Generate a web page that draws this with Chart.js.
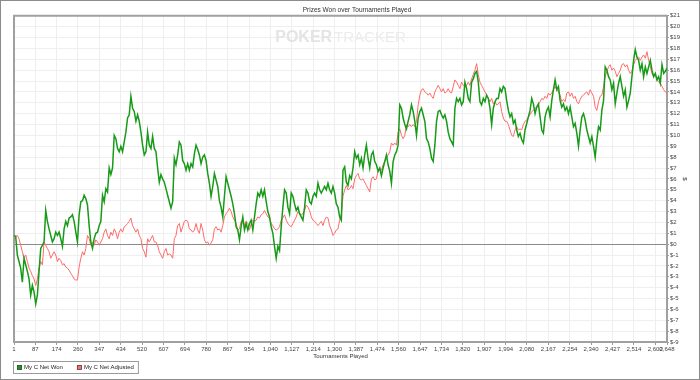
<!DOCTYPE html>
<html>
<head>
<meta charset="utf-8">
<script src="https://cdn.jsdelivr.net/npm/chart.js@4.4.1/dist/chart.umd.min.js"></script>
<style>
html,body{margin:0;padding:0;background:#fff;}
#wrap{width:700px;height:380px;position:relative;}
canvas{display:block;}
</style>
</head>
<body>
<div id="wrap"><canvas id="c" width="700" height="380"></canvas></div>
<script>
const chartTitle = 'Prizes Won over Tournaments Played';
const xAxisTitle = 'Tournaments Played';
const yAxisTitle = '$';
const seriesNames = ['My C Net Won', 'My C Net Adjusted'];
const seriesColors = ['#179a17', '#ff6b6b'];
const firstTournament = 1;
const lastTournament = 2648;
const yMin = -9;
const yMax = 21;
const xTickValues = [1, 87, 174, 260, 347, 434, 520, 607, 694, 780, 867, 954, 1040, 1127, 1214, 1300,
  1387, 1474, 1560, 1647, 1734, 1820, 1907, 1994, 2080, 2167, 2254, 2340, 2427, 2514, 2600, 2648];

// Net won ($), sampled evenly from tournament 1 to 2648
const netWon = [
  0.8, 0.7, -1.0, -1.6, -2.2, -3.5, -1.3, -1.9, -2.5, -3.2, -4.7, -3.8, -4.4, -5.5, -4.7, -2.5, -0.4, -0.1, 0.2, 3.1,
  2.1, 1.4, 0.8, 0.2, 0.5, 1.1, 0.8, 1.1, 0.5, -0.2, 1.4, 2.1, 1.7, 2.4, 2.5, 2.7, 2.1, 1.1, 0.2, 2.7,
  3.9, 4.0, 4.5, 4.2, 3.6, 1.7, 0.2, -0.4, 0.5, 1.0, 1.1, 1.7, 2.1, 4.5, 3.9, 5.1, 4.8, 7.0, 6.4, 7.0,
  10.0, 9.7, 8.8, 8.5, 9.0, 8.5, 9.4, 10.3, 11.6, 11.9, 13.6, 12.5, 12.2, 11.3, 11.9, 11.3, 10.3, 9.1, 8.2, 8.5,
  10.3, 9.1, 8.8, 9.9, 8.8, 8.5, 7.0, 5.7, 6.4, 6.0, 5.7, 5.1, 4.5, 3.9, 3.3, 3.9, 7.9, 7.3, 8.2, 9.4, 9.1,
  7.7, 7.4, 6.8, 7.4, 6.8, 7.4, 7.1, 8.3, 9.1, 8.7, 8.2, 7.4, 8.0, 8.2, 7.7, 6.5, 5.6, 4.4, 5.3, 6.5,
  5.9, 5.3, 4.0, 3.4, 2.5, 4.4, 6.2, 5.6, 5.0, 4.4, 3.7, 2.8, 1.6, 1.3, 0.4, 1.6, 2.5, 1.3, 1.9, 1.3,
  1.9, 2.2, 1.3, 2.5, 3.7, 4.7, 4.4, 5.0, 4.4, 5.0, 3.9, 3.0, 2.5, 1.6, 1.0, -0.2, -1.3, -0.2, -0.6, 1.6,
  3.4, 5.0, 4.7, 3.4, 2.8, 4.7, 4.4, 3.7, 3.1, 3.4, 2.8, 2.5, 2.2, 3.4, 5.0, 4.7, 3.9, 3.7, 4.4, 4.7,
  4.4, 5.6, 5.0, 4.7, 5.0, 5.3, 5.0, 5.6, 5.0, 4.7, 5.3, 4.7, 3.7, 3.4, 2.5, 2.2, 6.8, 7.1,
  5.7, 5.4, 6.3, 6.0, 7.0, 8.5, 7.9, 8.2, 7.3, 7.9, 7.0, 8.2, 9.1, 7.9, 7.0, 8.2, 8.5, 7.6, 7.3, 6.7,
  7.0, 6.3, 7.0, 7.6, 8.2, 7.3, 6.7, 5.6, 7.6, 8.2, 8.5, 9.1, 12.8, 12.5, 11.6, 11.0, 10.6, 11.3, 11.9, 12.8,
  12.2, 11.3, 10.0, 11.6, 12.2, 12.5, 11.9, 11.3, 9.7, 9.4, 8.8, 7.9, 7.6, 9.1, 11.3, 12.2, 12.3, 11.9, 11.6, 11.9,
  11.3, 10.3, 9.7, 9.4, 9.1, 12.5, 13.4, 13.1, 13.4, 12.8, 13.1, 14.9, 14.3, 13.4, 13.1, 14.9, 15.2, 15.7, 15.9, 14.9,
  13.1, 12.8, 13.4, 13.1, 13.7, 13.4, 12.5, 11.0, 12.5, 13.1, 13.4, 13.4, 14.3, 14.0, 14.5, 14.3,
  13.2, 12.3, 11.7, 12.0, 11.1, 11.4, 10.5, 9.9, 10.2, 9.6, 9.3, 10.5, 11.1, 11.7, 12.3, 13.4, 12.9, 12.0, 12.6, 12.9,
  11.7, 10.5, 10.2, 11.7, 12.3, 12.6, 11.7, 13.2, 14.2, 15.1, 14.2, 14.5, 13.2, 12.6, 12.9, 12.3, 12.6, 12.0, 12.6, 11.7,
  10.8, 11.1, 10.2, 9.0, 10.5, 11.7, 12.0, 11.4, 10.5, 9.9, 9.3, 9.9, 9.0, 8.0, 9.6, 10.8, 10.5, 12.3, 13.2, 16.3,
  16.0, 15.4, 15.1, 14.2, 14.8, 12.9, 13.9, 14.8, 15.4, 14.5, 13.6, 14.2, 12.6, 13.2, 13.9, 15.4, 16.9, 17.9, 17.2, 16.9,
  16.0, 16.6, 15.4, 16.3, 15.7, 16.3, 16.9, 16.0, 15.4, 15.7, 15.1, 15.4, 14.8, 16.5, 15.7, 15.9, 16.2
];

// Net adjusted ($), same sampling
const netAdjusted = [
  0.5, 0.7, 0.8, 0.5, -0.1, -0.7, -1.3, -1.0, -1.6, -2.2, -2.5, -2.9, -3.2, -3.8, -3.2, -2.2, -1.6, -1.9, 0.2, -0.1,
  -0.4, -0.7, -1.3, -1.0, -0.7, -1.0, -1.6, -1.3, -1.5, -1.9, -1.8, -2.1, -2.2, -2.4, -2.7, -2.9, -3.2, -3.3, -3.3, -2.1,
  -1.3, -0.7, -1.0, -0.4, 0.8, 0.5, -0.1, 0.2, -0.1, 0.4, 0.2, -0.1, 0.2, 0.5, 1.1, 1.4, 0.8, 0.5, 1.1, 0.8,
  1.4, 1.1, 0.5, 1.1, 1.4, 1.1, 1.6, 1.7, 1.9, 2.1, 2.4, 1.7, 1.4, 1.1, 1.4, 0.8, 0.5, -0.4, -0.7, -1.2,
  0.5, 0.2, 0.5, 0.8, 0.2, 0.2, -0.1, -0.7, -1.0, -1.3, -0.7, -0.4, -1.0, -0.9, -1.0, -1.3, 0.5, 0.8, 1.7, 1.9, 1.1,
  1.6, 2.1, 2.2, 2.1, 1.4, 1.3, 1.1, 1.3, 1.9, 1.3, 1.0, 1.9, 1.3, 0.4, 0.1, 0.2, -0.1, 0.1, 0.4, 1.4,
  1.6, 1.3, 1.4, 1.1, 1.7, 2.5, 2.8, 3.0, 3.3, 3.0, 2.5, 2.2, 1.9, 1.3, 1.4, 2.1, 2.2, 1.7, 2.1, 1.9,
  1.3, 1.9, 2.2, 2.1, 2.2, 2.5, 2.4, 2.7, 2.8, 3.1, 2.8, 2.5, 2.4, 1.9, 1.7, 1.4, 1.3, 1.4, 1.6, 2.2,
  2.4, 2.7, 2.2, 1.9, 1.7, 1.6, 1.9, 2.2, 2.5, 3.0, 2.8, 2.7, 2.8, 3.1, 3.6, 3.4, 3.1, 2.5, 2.2, 2.1,
  1.9, 1.7, 1.9, 2.1, 1.7, 2.2, 2.5, 2.4, 1.7, 1.3, 0.8, 1.0, 1.3, 1.4, 2.2, 2.8, 4.4, 5.0,
  5.4, 5.0, 5.1, 5.4, 5.1, 6.0, 6.3, 6.5, 6.0, 5.9, 6.0, 5.7, 5.4, 5.1, 4.8, 6.0, 6.2, 5.9, 6.0, 6.7,
  7.0, 6.8, 7.3, 7.6, 7.9, 8.2, 8.5, 9.3, 9.1, 9.3, 9.1, 10.3, 10.6, 10.0, 9.7, 10.0, 11.0, 10.8, 11.0, 10.8,
  11.0, 10.8, 11.3, 12.8, 13.7, 14.2, 14.3, 14.0, 13.9, 13.7, 13.9, 13.6, 13.4, 14.0, 14.3, 14.6, 14.3, 14.0, 14.3, 13.9,
  14.0, 14.3, 14.0, 13.9, 14.5, 15.1, 14.9, 14.6, 14.3, 14.9, 14.6, 14.5, 14.6, 14.9, 14.6, 15.2, 15.6, 16.0, 16.6, 15.6,
  14.9, 14.6, 14.3, 14.0, 13.7, 13.4, 13.1, 13.4, 12.9, 13.1, 12.8, 12.9, 13.1, 12.2, 11.6, 11.3,
  11.3, 11.0, 10.5, 10.0, 9.9, 10.5, 10.8, 10.5, 10.6, 10.5, 11.0, 11.3, 11.4, 11.7, 11.9, 12.2, 12.3, 12.5, 12.6, 12.8,
  13.1, 13.4, 13.3, 13.6, 13.4, 13.9, 13.7, 13.9, 14.2, 14.5, 14.2, 14.0, 13.7, 13.1, 13.3, 13.1, 13.9, 14.0, 13.6, 13.9,
  13.4, 13.6, 13.1, 12.9, 13.3, 13.6, 13.7, 13.9, 14.0, 13.7, 14.2, 13.9, 13.6, 12.6, 12.3, 13.1, 13.6, 13.7, 14.5, 15.4,
  15.9, 16.3, 16.5, 16.0, 16.2, 15.9, 15.4, 15.7, 16.0, 16.5, 16.6, 16.3, 16.5, 16.0, 15.7, 15.9, 16.5, 16.9, 17.1, 17.2,
  16.9, 17.2, 17.4, 17.1, 17.7, 16.9, 16.3, 15.7, 15.4, 15.6, 15.1, 14.9, 14.8, 14.5, 14.2, 14.0, 13.9
];

const FONT = "'Liberation Sans', Arial, sans-serif";

function toPoints(vals) {
  const step = (lastTournament - firstTournament) / (vals.length - 1);
  return vals.map((v, i) => ({ x: firstTournament + i * step, y: v }));
}

const decorPlugin = {
  id: 'decor',
  beforeDraw(chart) {
    const ctx = chart.ctx;
    ctx.save();
    ctx.fillStyle = '#ffffff';
    ctx.fillRect(0, 0, chart.width, chart.height);
    ctx.restore();
  },
  beforeDatasetsDraw(chart) {
    const ctx = chart.ctx;
    const a = chart.chartArea;
    ctx.save();
    // watermark
    ctx.textBaseline = 'middle';
    ctx.textAlign = 'left';
    ctx.font = "bold 16px " + FONT;
    const w1 = ctx.measureText('POKER').width;
    ctx.font = "15px " + FONT;
    const w2 = ctx.measureText('TRACKER').width;
    const cx = (a.left + a.right) / 2;
    let sx = cx - (w1 + w2 + 2) / 2;
    ctx.fillStyle = '#e4e4e4';
    ctx.font = "bold 16px " + FONT;
    ctx.fillText('POKER', sx, 38);
    ctx.fillStyle = '#ececec';
    ctx.font = "15px " + FONT;
    ctx.fillText('TRACKER', sx + w1 + 2, 38);
    // left and top frame of plot
    ctx.strokeStyle = '#a0a0a0';
    ctx.lineWidth = 2;
    ctx.beginPath();
    ctx.moveTo(a.left, a.bottom);
    ctx.lineTo(a.left, a.top);
    ctx.lineTo(a.right, a.top);
    ctx.stroke();
    ctx.restore();
  },
  afterDraw(chart) {
    const ctx = chart.ctx;
    ctx.save();
    // legend
    ctx.font = "6px " + FONT;
    ctx.textBaseline = 'middle';
    ctx.textAlign = 'left';
    let x = 17;
    const y = 367.5;
    const items = chart.data.datasets.map(d => ({ label: d.label, color: d.borderColor }));
    const startX = 13;
    items.forEach((it, i) => {
      ctx.fillStyle = it.color;
      ctx.fillRect(x, y - 2.5, 5, 5);
      ctx.strokeStyle = '#444';
      ctx.lineWidth = 0.7;
      ctx.strokeRect(x + 0.5, y - 2.5 + 0.5, 4, 4);
      ctx.fillStyle = '#222';
      ctx.fillText(it.label, x + 7, y);
      x += 7 + ctx.measureText(it.label).width + (i === items.length - 1 ? 4 : 14);
    });
    ctx.strokeStyle = '#9a9a9a';
    ctx.lineWidth = 1;
    ctx.strokeRect(startX + 0.5, 361.5, x - startX, 12);
    // outer frame
    ctx.strokeStyle = '#8c8c8c';
    ctx.strokeRect(0.5, 0.5, chart.width - 1, chart.height - 1);
    ctx.restore();
  }
};

new Chart(document.getElementById('c'), {
  type: 'line',
  data: {
    datasets: [
      { label: seriesNames[0], data: toPoints(netWon), borderColor: seriesColors[0], backgroundColor: seriesColors[0], borderWidth: 1.5, pointRadius: 0, fill: false, tension: 0 },
      { label: seriesNames[1], data: toPoints(netAdjusted), borderColor: seriesColors[1], backgroundColor: seriesColors[1], borderWidth: 1, pointRadius: 0, fill: false, tension: 0 }
    ]
  },
  options: {
    responsive: false,
    animation: false,
    devicePixelRatio: 1,
    layout: { padding: { left: 14, right: 0, top: 0, bottom: 20 } },
    plugins: {
      legend: { display: false },
      tooltip: { enabled: false },
      title: { display: true, text: chartTitle, color: '#333', font: { family: FONT, size: 6.5, weight: 'normal' }, padding: { top: 6, bottom: 2 } }
    },
    scales: {
      x: {
        type: 'linear',
        min: firstTournament,
        max: lastTournament,
        afterBuildTicks: s => { s.ticks = xTickValues.map(v => ({ value: v })); },
        afterFit: s => { s.height = 18; },
        ticks: { autoSkip: false, maxRotation: 0, minRotation: 0, padding: 1, color: '#444', font: { family: FONT, size: 6 },
          callback: v => Number(v).toLocaleString('en-US') },
        grid: { color: '#efefef', tickColor: '#9a9a9a', tickLength: 3, lineWidth: 1 },
        border: { color: '#a0a0a0', width: 2 },
        title: { display: true, text: xAxisTitle, color: '#333', font: { family: FONT, size: 6 }, padding: { top: 0, bottom: 0 } }
      },
      y: {
        position: 'right',
        min: yMin,
        max: yMax,
        afterFit: s => { s.width = 33; },
        ticks: { stepSize: 1, autoSkip: false, padding: 1, color: '#444', font: { family: FONT, size: 6 },
          callback: v => '$' + v },
        grid: { color: c => (c.tick && c.tick.value === 0) ? '#8a8a8a' : '#efefef', tickColor: '#9a9a9a', tickLength: 2, lineWidth: 1 },
        border: { color: '#a0a0a0', width: 2 },
        title: { display: true, text: yAxisTitle, color: '#333', font: { family: FONT, size: 6 }, padding: { top: 12, bottom: 0 } }
      }
    }
  },
  plugins: [decorPlugin]
});
</script>
</body>
</html>
